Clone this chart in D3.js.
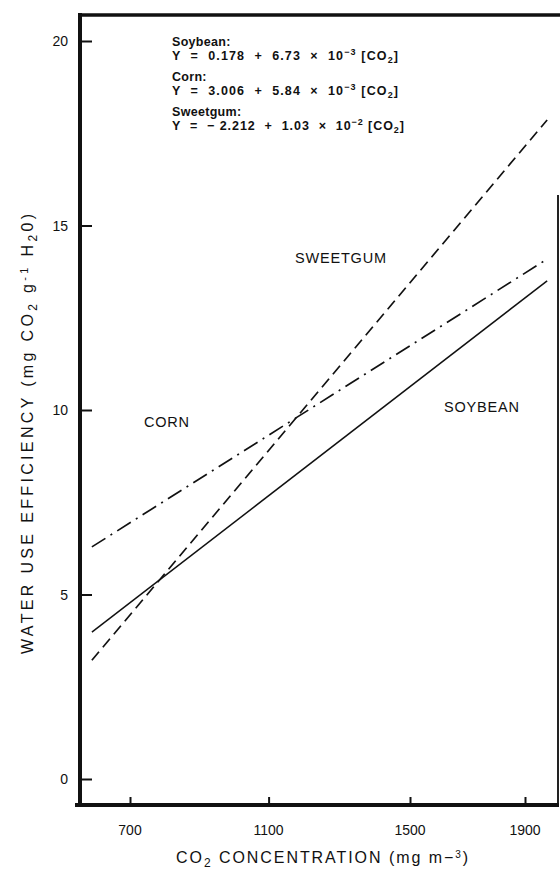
<!DOCTYPE html>
<html><head><meta charset="utf-8">
<script src="https://cdn.jsdelivr.net/npm/d3@7"></script>
<style>
html,body{margin:0;padding:0;background:#fff;}
text{font-family:"Liberation Sans",Arial,Helvetica,sans-serif;fill:#111;}
</style></head>
<body>
<svg id="chart" width="560" height="872"></svg>
<script>
// ---- data ----
const xTicks = [700, 1100, 1500, 1900];
const yTicks = [0, 5, 10, 15, 20];
const co2Ends = [590, 1977];
const soybean = [3.98, 13.50];
const corn = [6.29, 14.09];
const sweetgum = [3.22, 17.86];
const seriesNames = ["SOYBEAN", "CORN", "SWEETGUM"];
const equations = [
  {name: "Soybean:", a: "0.178", sign: "+", b: "6.73", exp: "−3"},
  {name: "Corn:", a: "3.006", sign: "+", b: "5.84", exp: "−3"},
  {name: "Sweetgum:", a: "− 2.212", sign: "+", b: "1.03", exp: "−2"}
];

const svg = d3.select("#chart");
const fLeft = 80, fTop = 15, fRight = 558, fBottom = 805;

// scales (the printed x axis is not evenly spaced; follow its tick positions)
const x = d3.scaleLinear().domain(xTicks).range([130, 268.6, 410, 525]);
const y = d3.scaleLinear().domain([0, 20]).range([779, 41]);

// frame
svg.append("line").attr("x1", fLeft - 2).attr("x2", 560).attr("y1", fTop).attr("y2", fTop)
  .attr("stroke", "#111").attr("stroke-width", 3.5);
svg.append("line").attr("x1", fRight).attr("x2", fRight).attr("y1", 195).attr("y2", fBottom)
  .attr("stroke", "#222").attr("stroke-width", 2);

// y axis
const yAxis = d3.axisRight(y).tickValues(yTicks).tickSize(12).tickFormat("");
const gy = svg.append("g").attr("transform", `translate(${fLeft},0)`).call(yAxis);
gy.select(".domain").remove();
gy.selectAll(".tick line").attr("stroke", "#111").attr("stroke-width", 2);
svg.append("line").attr("x1", fLeft).attr("x2", fLeft).attr("y1", fTop - 2).attr("y2", fBottom + 2)
  .attr("stroke", "#111").attr("stroke-width", 4);
svg.append("g").selectAll("text").data(yTicks).join("text")
  .attr("x", 68).attr("y", d => y(d) + 5).attr("text-anchor", "end")
  .style("font-size", "14px").text(d => d);

// x axis
const xAxis = d3.axisTop(x).tickValues(xTicks).tickSize(8).tickFormat("");
const gx = svg.append("g").attr("transform", `translate(0,${fBottom})`).call(xAxis);
gx.select(".domain").remove();
gx.selectAll(".tick line").attr("stroke", "#111").attr("stroke-width", 2);
svg.append("line").attr("x1", 75).attr("x2", fRight + 1).attr("y1", fBottom).attr("y2", fBottom)
  .attr("stroke", "#111").attr("stroke-width", 4);
svg.append("g").selectAll("text").data(xTicks).join("text")
  .attr("x", d => x(d)).attr("y", 835).attr("text-anchor", "middle")
  .style("font-size", "14px").text(d => d);

// axis titles
const xt = svg.append("text").attr("x", 322).attr("y", 863).attr("text-anchor", "middle")
  .style("font-size", "16px").attr("textLength", 292).attr("lengthAdjust", "spacing");
xt.append("tspan").text("CO");
xt.append("tspan").attr("dy", 4).style("font-size", "12px").text("2");
xt.append("tspan").attr("dy", -4).text(" CONCENTRATION  (mg m−");
xt.append("tspan").attr("dy", -5).style("font-size", "10px").text("3");
xt.append("tspan").attr("dy", 5).text(")");

const yt = svg.append("text").attr("transform", "translate(33,434) rotate(-90)")
  .attr("text-anchor", "middle").style("font-size", "16px")
  .attr("textLength", 440).attr("lengthAdjust", "spacing");
yt.append("tspan").text("WATER USE EFFICIENCY (mg CO");
yt.append("tspan").attr("dy", 4).style("font-size", "12px").text("2");
yt.append("tspan").attr("dy", -4).text(" g");
yt.append("tspan").attr("dy", -5).style("font-size", "11px").text("-1");
yt.append("tspan").attr("dy", 5).text(" H");
yt.append("tspan").attr("dy", 4).style("font-size", "12px").text("2");
yt.append("tspan").attr("dy", -4).text("0)");

// lines
const line = d3.line().x(d => x(d[0])).y(d => y(d[1]));
const series = [
  {name: seriesNames[0], vals: soybean, dash: null, w: 1.5},
  {name: seriesNames[1], vals: corn, dash: "16,6,2,6", w: 1.7},
  {name: seriesNames[2], vals: sweetgum, dash: "11,6", w: 1.7}
];
svg.append("g").selectAll("path").data(series).join("path")
  .attr("d", s => line(co2Ends.map((c, i) => [c, s.vals[i]])))
  .attr("fill", "none").attr("stroke", "#111")
  .attr("stroke-width", s => s.w)
  .attr("stroke-dasharray", s => s.dash);

// series labels
const labelPos = [[444, 412], [144, 427], [295, 263]];
svg.append("g").selectAll("text").data(seriesNames).join("text")
  .attr("x", (d, i) => labelPos[i][0]).attr("y", (d, i) => labelPos[i][1])
  .style("font-size", "14.5px").style("letter-spacing", "0.8px").text(d => d);

// equations
const eqBase = [46, 60, 81, 95, 116, 130];
equations.forEach((e, i) => {
  svg.append("text").attr("x", 172).attr("y", eqBase[2 * i])
    .style("font-size", "12.5px").style("font-weight", "bold").style("letter-spacing", "0.3px").text(e.name);
  const t = svg.append("text").attr("x", 172).attr("y", eqBase[2 * i + 1])
    .style("font-size", "12.5px").style("font-weight", "bold").attr("xml:space", "preserve")
    .attr("textLength", i === 2 ? 232 : 226).attr("lengthAdjust", "spacing");
  t.append("tspan").text(`Y  =  ${e.a}  ${e.sign}  ${e.b}  ×  10`);
  t.append("tspan").attr("dy", -5).style("font-size", "9px").text(e.exp);
  t.append("tspan").attr("dy", 5).text(" [CO");
  t.append("tspan").attr("dy", 3).style("font-size", "9px").text("2");
  t.append("tspan").attr("dy", -3).text("]");
});
</script>
</body></html>
